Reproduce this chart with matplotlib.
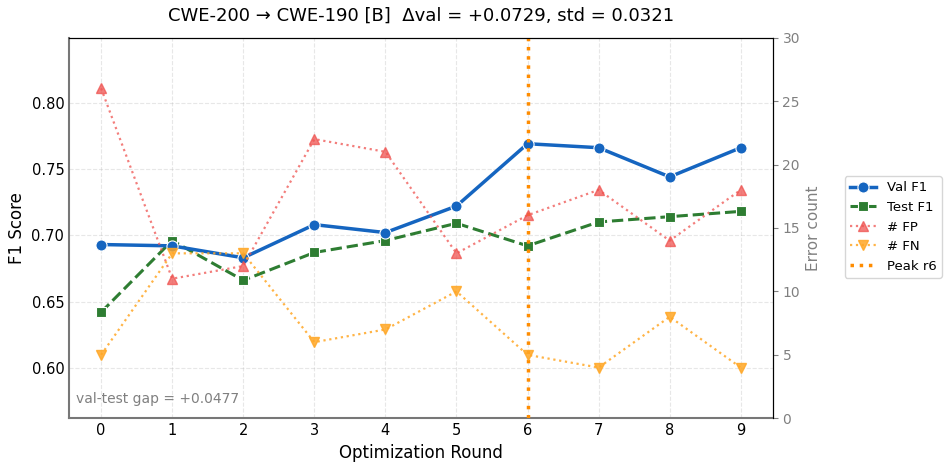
import matplotlib
matplotlib.use('Agg')
import matplotlib.pyplot as plt

rounds = [0, 1, 2, 3, 4, 5, 6, 7, 8, 9]
val_f1 = [0.693, 0.692, 0.683, 0.708, 0.702, 0.722, 0.769, 0.766, 0.744, 0.766]
test_f1 = [0.642, 0.696, 0.666, 0.687, 0.696, 0.709, 0.692, 0.710, 0.714, 0.718]
n_fp = [26, 11, 12, 22, 21, 13, 16, 18, 14, 18]
n_fn = [5, 13, 13, 6, 7, 10, 5, 4, 8, 4]
peak = 6

fig, ax = plt.subplots(figsize=(9.47, 4.7), dpi=100)
ax2 = ax.twinx()

l1, = ax.plot(rounds, val_f1, '-o', color='#1565C0', lw=2.5, ms=8,
              mec='white', mew=0.8, label='Val F1', zorder=5)
l2, = ax.plot(rounds, test_f1, '--s', color='#2E7D32', lw=2.2, ms=7,
              mec='white', mew=0.8, label='Test F1', zorder=4)
l3, = ax2.plot(rounds, n_fp, ':^', color='#EF5350', alpha=0.75, lw=1.6, ms=7,
               label='# FP')
l4, = ax2.plot(rounds, n_fn, ':v', color='#FFA726', alpha=0.85, lw=1.6, ms=7,
               label='# FN')
l5 = ax.axvline(peak, color='#FF8C00', ls=':', lw=2.5, label='Peak r6', zorder=6)

lo = min(min(val_f1), min(test_f1))
hi = max(max(val_f1), max(test_f1))
ax.set_ylim(lo - 0.08, hi + 0.08)
ax2.set_ylim(0, 30)
ax.set_xlim(-0.45, 9.45)
ax.set_xticks(rounds)

ax.set_xlabel('Optimization Round', fontsize=12)
ax.set_ylabel('F1 Score', fontsize=12)
ax2.set_ylabel('Error count', fontsize=11, color='gray')
ax2.tick_params(axis='y', colors='gray', labelsize=10)
ax.tick_params(axis='both', length=0, labelsize=10.5)
ax.grid(True, ls='--', alpha=0.3)

for s in ['left', 'bottom']:
    ax.spines[s].set_color('#777777')
    ax.spines[s].set_linewidth(1.5)
ax2.spines['left'].set_visible(False)
ax2.spines['bottom'].set_visible(False)

ax.text(0.01, 0.04, 'val-test gap = +0.0477',
        transform=ax.transAxes, fontsize=10, color='gray')

ax.set_title('CWE-200 \u2192 CWE-190 [B]  \u0394val = +0.0729, std = 0.0321',
             fontsize=13, pad=12)

fig.legend(handles=[l1, l2, l3, l4, l5], loc='center left',
           bbox_to_anchor=(0.885, 0.517), fontsize=9.5)

plt.subplots_adjust(left=0.073, right=0.816, top=0.92, bottom=0.11)
plt.savefig('out.png')
